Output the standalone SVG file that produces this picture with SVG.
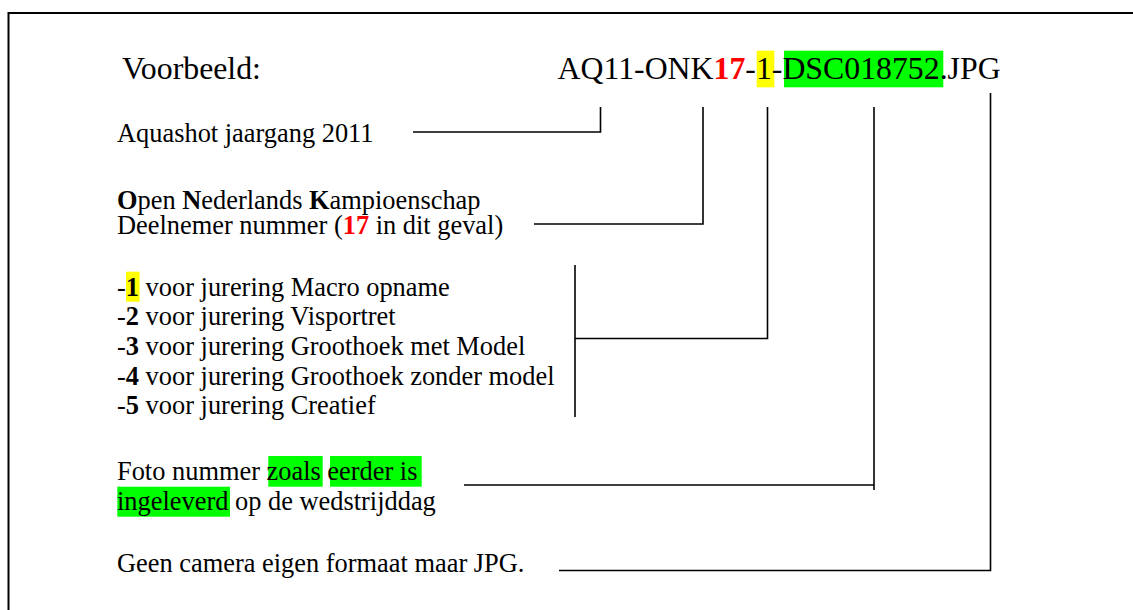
<svg xmlns="http://www.w3.org/2000/svg" width="1133" height="610" viewBox="0 0 1133 610">
<style>
text{font-family:"Liberation Serif","Times New Roman",serif;fill:#000}
.h{font-size:31.8px}
.b{font-size:26.4px}
.bold{font-weight:bold}
.red{fill:#ff0000}
.yel{fill:#ffff00}
.grn{fill:#00ff00}
.ln{fill:none;stroke:#000;stroke-width:1.6}
.frame{fill:none;stroke:#000;stroke-width:2}
</style>
<rect width="1133" height="610" fill="#fff"/>
<path class="frame" d="M8.5,610 V13 H1133"/>
<g id="heading">
<text class="h" x="122" y="79">Voorbeeld:</text>
</g>
<g id="filename">
<rect class="yel" x="756.7" y="50.7" width="17.6" height="36.6"/>
<rect class="grn" x="784" y="50.7" width="159.3" height="36.6"/>
<text class="h" x="557.5" y="79">AQ11-ONK<tspan class="bold red">17</tspan>-1-DSC018752.JPG</text>
</g>
<g id="aquashot">
<text class="b" x="117" y="142">Aquashot jaargang 2011</text>
</g>
<g id="onk">
<text class="b" x="117" y="208.5"><tspan class="bold">O</tspan>pen <tspan class="bold">N</tspan>ederlands <tspan class="bold">K</tspan>ampioenschap</text>
<text class="b" x="117" y="234">Deelnemer nummer (<tspan class="bold red">17</tspan> in dit geval)</text>
</g>
<g id="jurering">
<rect class="yel" x="126" y="271.7" width="13.6" height="30"/>
<text class="b" x="117" y="295.5">-<tspan class="bold">1</tspan> voor jurering Macro opname</text>
<text class="b" x="117" y="325.2">-<tspan class="bold">2</tspan> voor jurering Visportret</text>
<text class="b" x="117" y="354.9">-<tspan class="bold">3</tspan> voor jurering Groothoek met Model</text>
<text class="b" x="117" y="384.6">-<tspan class="bold">4</tspan> voor jurering Groothoek zonder model</text>
<text class="b" x="117" y="414.3">-<tspan class="bold">5</tspan> voor jurering Creatief</text>
</g>
<g id="foto">
<rect class="grn" x="268.3" y="456" width="54.4" height="30.7"/>
<rect class="grn" x="330" y="456" width="91.7" height="30.7"/>
<rect class="grn" x="117.3" y="486.7" width="112.7" height="30"/>
<text class="b" x="117" y="479.8">Foto nummer zoals eerder is</text>
<text class="b" x="117" y="509.8">ingeleverd op de wedstrijddag</text>
</g>
<g id="jpg">
<text class="b" x="117" y="571.5">Geen camera eigen formaat maar JPG.</text>
</g>
<g id="connectors">
<path class="ln" d="M413,132 H600.5 V107"/>
<path class="ln" d="M534,224 H703 V107"/>
<path class="ln" d="M575,265 V417"/>
<path class="ln" d="M575,338.5 H767.5 V107"/>
<path class="ln" d="M464,485 H874"/>
<path class="ln" d="M874,107 V490"/>
<path class="ln" d="M559,570.5 H990.5 V93"/>
</g>
</svg>
